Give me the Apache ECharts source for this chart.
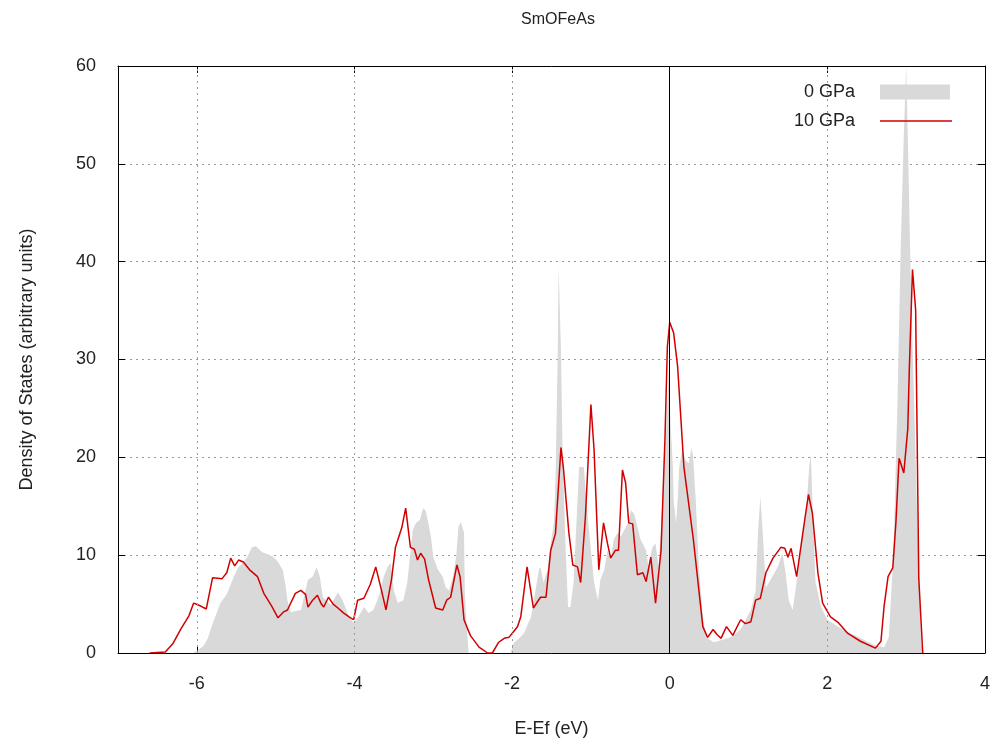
<!DOCTYPE html>
<html>
<head>
<meta charset="utf-8">
<script src="https://cdn.jsdelivr.net/npm/echarts@6/dist/echarts.min.js"></script>
<style>
  html, body { margin: 0; padding: 0; background: #fff; }
  #chart { width: 995px; height: 746px; }
</style>
</head>
<body>
<div id="chart"></div>
<script>
// ====== Data ======
const xTicks = [-6, -4, -2, 0, 2, 4];
const gridX = [-6, -4, -2, 2];

// 10 GPa curve
const e10 = [-6.60, -6.40, -6.30, -6.20, -6.10, -6.04, -5.95, -5.88, -5.80, -5.68, -5.62, -5.57, -5.52, -5.47, -5.41, -5.33, -5.23, -5.15, -5.05, -4.97,
  -4.90, -4.85, -4.75, -4.68, -4.62, -4.59, -4.53, -4.47, -4.42, -4.39, -4.33, -4.27, -4.21, -4.14, -4.05, -4.01, -3.96, -3.88, -3.80, -3.73,
  -3.66, -3.60, -3.53, -3.48, -3.40, -3.35, -3.29, -3.24, -3.20, -3.16, -3.11, -3.06, -2.97, -2.88, -2.83, -2.78, -2.70, -2.66, -2.61, -2.53,
  -2.42, -2.31, -2.25, -2.17, -2.10, -2.04, -2.00, -1.93, -1.89, -1.81, -1.73, -1.64, -1.57, -1.51, -1.45, -1.38, -1.35, -1.28, -1.23, -1.17,
  -1.13, -1.07, -1.00, -0.96, -0.90, -0.84, -0.79, -0.75, -0.69, -0.65, -0.60, -0.56, -0.52, -0.47, -0.41, -0.34, -0.30, -0.24, -0.18, -0.11,
  -0.06, -0.03, 0.00, 0.05, 0.10, 0.18, 0.30, 0.42, 0.48, 0.55, 0.60, 0.65, 0.72, 0.80, 0.90, 0.96, 1.03, 1.09, 1.15, 1.22,
  1.31, 1.41, 1.46, 1.50, 1.54, 1.61, 1.70, 1.76, 1.81, 1.88, 1.94, 2.04, 2.14, 2.26, 2.42, 2.61, 2.68, 2.72, 2.77, 2.83,
  2.87, 2.91, 2.97, 3.02, 3.04, 3.08, 3.12, 3.14, 3.16, 3.21];
const dos10 = [0, 0.1, 1.0, 2.5, 3.8, 5.1, 4.8, 4.5, 7.7, 7.6, 8.2, 9.7, 8.9, 9.5, 9.3, 8.5, 7.8, 6.1, 4.8, 3.6,
  4.2, 4.4, 6.1, 6.4, 6.0, 4.7, 5.4, 5.9, 5.0, 4.7, 5.7, 5.0, 4.6, 4.1, 3.6, 3.4, 5.4, 5.6, 7.0, 8.8,
  6.5, 4.4, 7.5, 10.8, 12.8, 14.8, 10.8, 10.6, 9.5, 10.2, 9.6, 7.5, 4.6, 4.4, 5.4, 5.7, 9.0, 7.8, 3.4, 1.8,
  0.6, 0, 0, 1.1, 1.5, 1.6, 2.0, 2.7, 3.7, 8.8, 4.6, 5.7, 5.7, 10.5, 12.2, 21.0, 19.0, 12.3, 9.0, 8.8,
  7.2, 13.9, 25.4, 20.8, 8.5, 13.3, 11.2, 9.7, 10.5, 10.5, 18.7, 17.4, 13.3, 13.2, 8.0, 8.2, 7.3, 9.8, 5.1, 10.5,
  22.0, 31.3, 33.8, 32.7, 29.3, 19.0, 11.6, 2.7, 1.6, 2.4, 1.9, 1.5, 2.7, 1.8, 3.4, 3.0, 3.2, 5.4, 5.6, 8.2,
  9.7, 10.8, 10.7, 9.8, 10.7, 7.8, 12.9, 16.2, 14.3, 8.2, 5.1, 3.7, 3.1, 2.0, 1.2, 0.5, 1.2, 4.8, 7.8, 8.7,
  13.4, 19.9, 18.4, 22.9, 29.1, 39.2, 35.1, 21.4, 7.6, 0];

// 0 GPa curve (filled)
const e0 = [-6.05, -5.98, -5.91, -5.86, -5.80, -5.70, -5.62, -5.53, -5.48, -5.42, -5.36, -5.30, -5.25, -5.17, -5.10, -5.03, -4.97, -4.91, -4.87, -4.85,
  -4.81, -4.68, -4.59, -4.53, -4.48, -4.44, -4.40, -4.30, -4.21, -4.15, -4.07, -4.01, -3.95, -3.88, -3.82, -3.76, -3.71, -3.67, -3.63, -3.58,
  -3.54, -3.50, -3.45, -3.38, -3.33, -3.26, -3.22, -3.17, -3.13, -3.10, -3.07, -3.03, -3.00, -2.94, -2.88, -2.84, -2.80, -2.75, -2.71, -2.68,
  -2.65, -2.61, -2.60, -2.58, -2.55, -2.02, -1.98, -1.85, -1.76, -1.73, -1.66, -1.64, -1.60, -1.55, -1.51, -1.47, -1.45, -1.42, -1.41, -1.38,
  -1.36, -1.32, -1.29, -1.26, -1.22, -1.17, -1.15, -1.09, -1.04, -1.00, -0.96, -0.91, -0.88, -0.83, -0.79, -0.75, -0.71, -0.66, -0.62, -0.53,
  -0.49, -0.45, -0.41, -0.37, -0.30, -0.27, -0.22, -0.18, -0.14, -0.09, -0.05, -0.01, 0.01, 0.04, 0.05, 0.08, 0.10, 0.12, 0.16, 0.20,
  0.24, 0.28, 0.30, 0.33, 0.37, 0.42, 0.46, 0.56, 0.65, 0.77, 0.90, 1.03, 1.09, 1.12, 1.15, 1.18, 1.22, 1.28, 1.37, 1.43,
  1.47, 1.51, 1.56, 1.60, 1.66, 1.73, 1.77, 1.79, 1.81, 1.85, 1.92, 2.00, 2.13, 2.30, 2.45, 2.60, 2.72, 2.78, 2.84, 2.89,
  2.93, 2.97, 3.00, 3.02, 3.06, 3.10, 3.15, 3.19, 3.23];
const dos0 = [0, 0.3, 0.8, 1.5, 3.0, 5.1, 6.0, 7.8, 8.7, 9.2, 9.8, 10.8, 10.9, 10.3, 10.1, 9.8, 9.3, 8.5, 6.7, 5.4,
  4.2, 4.4, 7.5, 7.8, 8.8, 7.8, 5.7, 4.9, 6.2, 5.4, 3.7, 3.1, 3.7, 4.7, 4.1, 4.4, 5.4, 6.4, 7.8, 8.8,
  9.2, 6.4, 5.1, 5.4, 7.2, 12.6, 13.3, 13.6, 14.8, 14.6, 13.6, 11.9, 9.8, 8.5, 7.8, 6.7, 6.4, 7.8, 9.8, 12.9,
  13.4, 12.3, 6.4, 3.1, 0, 0, 1.0, 2.0, 3.7, 5.1, 8.5, 8.8, 7.2, 8.5, 11.2, 13.3, 17.4, 31.0, 39.5, 31.0,
  20.8, 10.5, 4.7, 4.7, 7.2, 15.6, 19.0, 19.0, 13.9, 10.5, 7.2, 5.4, 7.5, 8.5, 10.5, 9.5, 11.6, 12.3, 11.9, 13.3,
  14.6, 14.2, 12.9, 11.6, 10.5, 8.8, 10.8, 11.2, 8.8, 15.6, 21.8, 29.3, 23.5, 19.0, 15.6, 13.3, 15.6, 19.0, 20.8, 19.7,
  19.4, 21.0, 19.7, 15.6, 8.8, 3.7, 1.6, 1.1, 1.3, 1.6, 2.4, 4.4, 6.4, 12.3, 16.0, 12.3, 6.7, 7.5, 8.8, 10.2,
  8.2, 5.4, 4.4, 6.7, 10.2, 14.3, 19.0, 20.4, 15.6, 7.2, 4.7, 3.4, 2.7, 2.0, 1.4, 0.8, 0.6, 1.6, 10.5, 25.9,
  41.3, 53.0, 60.0, 53.0, 37.5, 25.9, 10.5, 0.8, 0];

const zip = (xs, ys) => xs.map((x, i) => [x, ys[i]]);

// ====== Chart ======
const chart = echarts.init(document.getElementById('chart'));
const FONT = 'Liberation Sans';
const gridLine = { color: '#999', width: 1, type: [2, 4] };
const legendText = { fontSize: 18, color: '#222', fontFamily: FONT };

const option = {
  animation: false,
  backgroundColor: '#fff',
  textStyle: { fontFamily: FONT },
  title: {
    text: 'SmOFeAs',
    left: 553,
    top: 7,
    textAlign: 'center',
    textStyle: { fontSize: 16, fontWeight: 'normal', color: '#222', fontFamily: FONT }
  },
  // two legends so the swatch for the line can be thin
  legend: [{
    orient: 'vertical',
    right: 44,
    top: 78,
    align: 'right',
    itemWidth: 70,
    itemHeight: 15,
    formatter: name => name + '    ',
    textStyle: legendText,
    data: [{ name: '0 GPa', icon: 'rect' }]
  }, {
    orient: 'vertical',
    right: 42,
    top: 107,
    align: 'right',
    itemWidth: 72,
    itemHeight: 1.5,
    formatter: name => name + '    ',
    textStyle: legendText,
    data: [{ name: '10 GPa', icon: 'rect' }]
  }],
  grid: { left: 118, right: 10, top: 66, bottom: 93 },
  xAxis: [{
    type: 'value',
    min: -7,
    max: 4,
    name: 'E-Ef (eV)',
    nameLocation: 'middle',
    nameGap: 67,
    nameTextStyle: { fontSize: 18, color: '#222' },
    axisLine: { show: true, onZero: false, lineStyle: { color: '#000' } },
    axisTick: { inside: true, length: 7, customValues: xTicks, lineStyle: { color: '#000' } },
    axisLabel: { customValues: xTicks, fontSize: 18, color: '#222', margin: 22 },
    splitLine: { show: false }
  }, {
    type: 'value',
    position: 'top',
    min: -7,
    max: 4,
    axisLine: { show: true, onZero: false, lineStyle: { color: '#000' } },
    axisTick: { inside: true, length: 7, customValues: xTicks, lineStyle: { color: '#000' } },
    axisLabel: { show: false },
    splitLine: { show: false }
  }],
  yAxis: [{
    type: 'value',
    min: 0,
    max: 60,
    interval: 10,
    name: 'Density of States (arbitrary units)',
    nameLocation: 'middle',
    nameGap: 82,
    nameTextStyle: { fontSize: 18, color: '#222' },
    axisLine: { show: true, onZero: false, lineStyle: { color: '#000' } },
    axisTick: { inside: true, length: 7, lineStyle: { color: '#000' } },
    axisLabel: { fontSize: 18, color: '#222', margin: 22 },
    splitLine: { show: true, lineStyle: gridLine }
  }, {
    type: 'value',
    position: 'right',
    min: 0,
    max: 60,
    interval: 10,
    axisLine: { show: true, onZero: false, lineStyle: { color: '#000' } },
    axisTick: { inside: true, length: 7, lineStyle: { color: '#000' } },
    axisLabel: { show: false },
    splitLine: { show: false }
  }],
  series: [
    {
      name: '0 GPa',
      type: 'line',
      data: zip(e0, dos0),
      color: '#d9d9d9',
      showSymbol: false,
      symbol: 'none',
      lineStyle: { width: 0 },
      areaStyle: { color: '#d9d9d9', opacity: 1 },
      z: 1,
      markLine: {
        silent: true,
        symbol: 'none',
        label: { show: false },
        lineStyle: gridLine,
        data: gridX.map(v => ({ xAxis: v }))
      }
    },
    {
      name: '10 GPa',
      type: 'line',
      data: zip(e10, dos10),
      color: '#d00000',
      showSymbol: false,
      symbol: 'none',
      lineStyle: { width: 1.5, color: '#d00000' },
      z: 3,
      markLine: {
        silent: true,
        symbol: 'none',
        label: { show: false },
        lineStyle: { color: '#000', width: 1, type: 'solid' },
        data: [{ xAxis: 0 }]
      }
    }
  ]
};

// nudge legends a few px right to sit like the reference
option.legend[0].right = 40;
option.legend[1].right = 38;

chart.setOption(option);
</script>
</body>
</html>
